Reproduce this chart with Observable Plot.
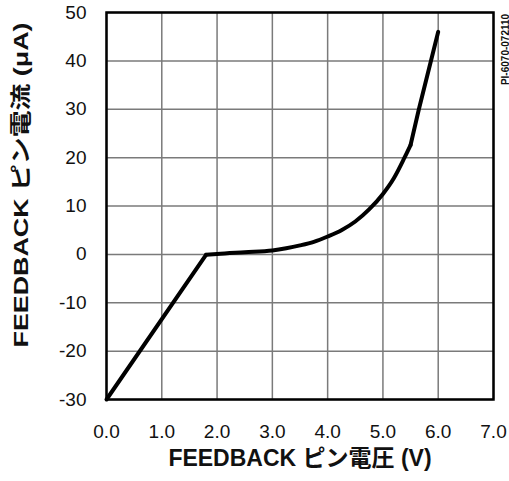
<!DOCTYPE html>
<html>
<head>
<meta charset="utf-8">
<script src="https://cdn.jsdelivr.net/npm/d3@7"></script>
<script src="https://cdn.jsdelivr.net/npm/@observablehq/plot@0.6"></script>
<style>
  html, body { margin: 0; padding: 0; background: #fff; }
</style>
</head>
<body>
<div id="chart"></div>
<script>
// FEEDBACK pin voltage (V) and the current drawn through the pin (µA)
const voltage = [0.0, 1.8, 2.0, 2.5, 3.0, 3.25, 3.5, 3.75, 4.0, 4.25, 4.5, 4.75, 5.0, 5.2, 5.39, 5.5, 5.65, 6.0];
const current = [-30, -0.1, 0.1, 0.45, 0.8, 1.25, 1.85, 2.6, 3.7, 5.0, 6.8, 9.3, 12.5, 15.8, 20.0, 22.6, 30.0, 46.0];

const xTicks = [0, 1, 2, 3, 4, 5, 6, 7];
const yTicks = [-30, -20, -10, 0, 10, 20, 30, 40, 50];

const xTitle = "FEEDBACK ピン電圧 (V)";
const yTitle = "FEEDBACK ピン電流 (μA)";
const figId = "PI-6070-072110";

const curve = voltage.map((v, i) => ({v, i: current[i]}));
// the characteristic has two sharp knees (near 1.8 V and 5.5 V); the part
// between them is a smooth exponential-like rise
const kneeLow = 1, kneeHigh = 15;
const lowPart = curve.slice(0, kneeLow + 1);
const midPart = curve.slice(kneeLow, kneeHigh + 1);
const highPart = curve.slice(kneeHigh);

const font = "'Liberation Sans', Arial, Helvetica, 'Noto Sans CJK JP', sans-serif";
const lineStyle = {x: "v", y: "i", stroke: "#000", strokeWidth: 4, strokeLinejoin: "round", strokeLinecap: "round"};

const chart = Plot.plot({
  width: 509,
  height: 481,
  marginLeft: 106,
  marginRight: 16,
  marginTop: 12,
  marginBottom: 82,
  style: {fontFamily: font, fontSize: "19px", color: "#111", background: "#fff", overflow: "visible"},
  x: {domain: [0, 7]},
  y: {domain: [-30, 50]},
  marks: [
    Plot.gridX(xTicks, {stroke: "#7a7a7a", strokeOpacity: 1, strokeWidth: 1.5}),
    Plot.gridY(yTicks, {stroke: "#7a7a7a", strokeOpacity: 1, strokeWidth: 1.5}),
    Plot.frame({stroke: "#000", strokeWidth: 2.5}),
    Plot.line(lowPart, lineStyle),
    Plot.line(midPart, {...lineStyle, curve: "monotone-x"}),
    Plot.line(highPart, lineStyle),
    Plot.axisX(xTicks, {tickSize: 0, tickPadding: 25, tickFormat: d => d.toFixed(1), label: null, fontSize: 19}),
    Plot.axisY(yTicks, {tickSize: 0, tickPadding: 20, tickFormat: d => String(d), label: null, fontSize: 19}),
    Plot.text([xTitle], {frameAnchor: "bottom", textAnchor: "middle", dy: 66, fontWeight: "bold", fontSize: 23, fill: "#111"}),
    Plot.text([yTitle], {frameAnchor: "left", textAnchor: "middle", rotate: -90, dx: -85, dy: -21, fontWeight: "bold", fontSize: 21, fill: "#111"}),
    Plot.text([figId], {frameAnchor: "top-right", textAnchor: "middle", rotate: -90, dx: 8, dy: 37, fontWeight: "bold", fontSize: 10, fill: "#111"})
  ]
});

// the vertical axis title is set wide, stretched along its baseline
d3.select(chart).selectAll("text")
  .filter(function () { return this.textContent === yTitle; })
  .attr("textLength", 325)
  .attr("lengthAdjust", "spacingAndGlyphs");

document.getElementById("chart").appendChild(chart);
</script>
</body>
</html>
